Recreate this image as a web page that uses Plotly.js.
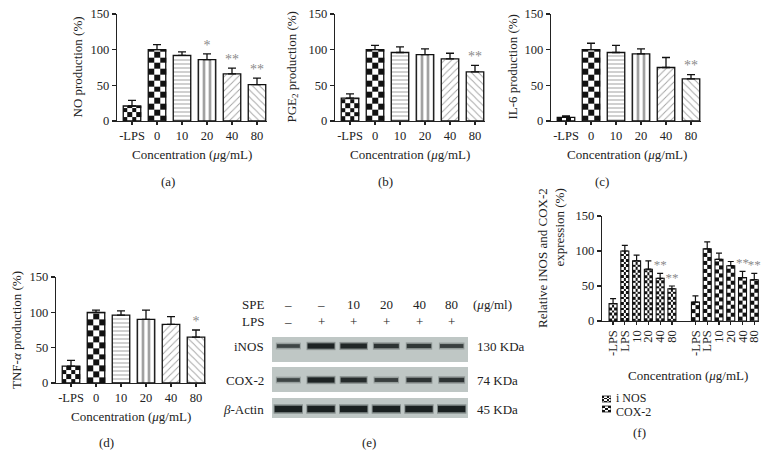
<!DOCTYPE html>
<html><head><meta charset="utf-8">
<script src="https://cdn.plot.ly/plotly-3.0.1.min.js"></script>
<style>html,body{margin:0;padding:0;background:#fff}</style>
</head><body><div id="chart" style="width:775px;height:469px"></div>
<script>
// ---------- data ----------
const groups = ['-LPS','0','10','20','40','80'];
const noVal = [21,100,92,86,66,51];
const noErr = [8,7,5,8,8,9];
const noStars = ['','','','*','**','**'];
const pgeVal = [32,100,96,93,87,69];
const pgeErr = [6,6,8,8,8,9];
const pgeStars = ['','','','','','**'];
const il6Val = [5,100,96,94,75,59];
const il6Err = [2,9,10,7,14,6];
const il6Stars = ['','','','','','**'];
const tnfVal = [24,100,96,90,83,65];
const tnfErr = [8,3,6,13,11,10];
const tnfStars = ['','','','','','*'];
const fGroups = ['-LPS','LPS','10','20','40','80'];
const fSeries = ['i NOS','COX-2'];
const inosVal = [25,100,86,74,61,46];
const inosErr = [7,8,8,12,7,4];
const inosStars = ['','','','','**','**'];
const coxVal = [27,103,88,79,62,59];
const coxErr = [9,10,9,6,9,9];
const coxStars = ['','','','','**','**'];
const blotLanes = [1,2,3,4,5,6];
const speRow = ['–','–','10','20','40','80'];
const lpsRow = ['–','+','+','+','+','+'];
const blotRows = ['iNOS','COX-2','<i>β</i>-Actin'];
const blotKDa = ['130 KDa','74 KDa','45 KDa'];
const inosBand = [0.55,0.95,0.9,0.75,0.7,0.6];
const coxBand = [0.55,0.95,0.85,0.6,0.75,0.75];
const actinBand = [1,1,1,1,1,1];

// ---------- helpers ----------
const W=775,H=469;
const F='"Liberation Serif","Times New Roman",serif';
const TXT='#222';
const px=x=>x/W, py=y=>1-y/H;
const dX=(l,r)=>[px(l),px(r)];
const dY=(t,b)=>[py(b),py(t)];
const TR='rgba(0,0,0,0)';

function checker(xa,ya,cx,w,val,ncols,sq,y0){
  const xe=[];for(let i=0;i<=ncols;i++)xe.push(cx-w/2+i*w/ncols);
  const base=(y0===undefined)?0:y0;
  const ye=[base];while(ye[ye.length-1]+sq<val-0.01)ye.push(ye[ye.length-1]+sq);ye.push(val);
  const z=[];for(let r=0;r<ye.length-1;r++){const row=[];for(let c=0;c<ncols;c++)row.push((r+c+1)%2);z.push(row);}
  return {type:'heatmap',x:xe,y:ye,z:z,xaxis:xa,yaxis:ya,colorscale:[[0,'#ffffff'],[1,'#111111']],zmin:0,zmax:1,showscale:false,hoverinfo:'skip',zsmooth:false};
}
function starTrace(xs,vals,errs,stars,xa,ya,size){
  const X=[],Y=[],T=[];
  stars.forEach((s,i)=>{if(s){X.push(xs[i]);Y.push(vals[i]+errs[i]+1);T.push(s);}});
  return {type:'scatter',mode:'text',x:X,y:Y,text:T,textposition:'top center',
    textfont:{family:F,size:size,color:'#8a8a8a'},xaxis:xa,yaxis:ya,hoverinfo:'skip',cliponaxis:false};
}

const traces=[];
const layout={width:W,height:H,margin:{l:0,r:0,t:0,b:0},paper_bgcolor:'#fff',plot_bgcolor:TR,showlegend:false,annotations:[],shapes:[]};

function yAxis(t,b,anchor){
  return {domain:dY(t,b),anchor:anchor,range:[0,150],tickvals:[0,50,100,150],ticks:'outside',ticklen:4,tickwidth:1.2,tickcolor:'#222',
    showline:true,linecolor:'#222',linewidth:1.2,showgrid:false,zeroline:false,tickfont:{family:F,size:12.5,color:TXT},automargin:false,fixedrange:true};
}
function xAxis(l,r,anchor,range,tv,tt,angle){
  return {domain:dX(l,r),anchor:anchor,range:range,tickvals:tv,ticktext:tt,tickangle:angle||0,ticks:'outside',ticklen:3,tickwidth:1.2,tickcolor:'#222',
    showline:true,linecolor:'#222',linewidth:1.2,showgrid:false,zeroline:false,tickfont:{family:F,size:12.5,color:TXT},automargin:false,fixedrange:true};
}
function ann(text,x,y,opt){
  layout.annotations.push(Object.assign({text:text,x:px(x),y:py(y),xref:'paper',yref:'paper',showarrow:false,font:{family:F,size:13,color:TXT},xanchor:'center',yanchor:'middle'},opt||{}));
}

// ---------- bar panels a-d ----------
const idx=groups.map((g,i)=>i);
const panels=[
  {n:'',val:noVal,err:noErr,stars:noStars,l:117,t:14,b:121,yt:'NO production (%)',ytx:77,xtx:192,xty:154,lab:'(a)',lx:168,ly:181},
  {n:'2',val:pgeVal,err:pgeErr,stars:pgeStars,l:335,t:14,b:121,yt:'PGE<sub>2</sub> production (%)',ytx:292,xtx:410,xty:154,lab:'(b)',lx:385,ly:181},
  {n:'3',val:il6Val,err:il6Err,stars:il6Stars,l:551,t:14,b:121,yt:'IL-6 production (%)',ytx:512,xtx:627,xty:154,lab:'(c)',lx:602,ly:181},
  {n:'4',val:tnfVal,err:tnfErr,stars:tnfStars,l:56,t:277,b:383,yt:'TNF-<i>α</i> production (%)',ytx:16,xtx:131,xty:416,lab:'(d)',lx:106,ly:442}
];
const BW=0.7;
panels.forEach(p=>{
  const xa='x'+p.n, ya='y'+p.n;
  const pxPerUnit=(p.b-p.t)/150;
  layout['xaxis'+p.n]=xAxis(p.l,p.l+150,ya,[-0.6,5.4],idx,groups);
  layout['yaxis'+p.n]=yAxis(p.t,p.b,xa);
  traces.push(checker(xa,ya,0,BW,p.val[0],4,4.4/pxPerUnit));
  traces.push(checker(xa,ya,1,BW,p.val[1],3,5.8/pxPerUnit));
  traces.push({type:'bar',x:idx,y:p.val,width:BW,xaxis:xa,yaxis:ya,hoverinfo:'skip',
    marker:{color:[TR,TR,'#fff','#fff','#fff','#fff'],line:{color:'#111',width:1.3},
      pattern:{shape:['','','-','|','/','\\'],size:[4,4,4,6,5,5],solidity:[0.2,0.2,0.25,0.45,0.18,0.18],fgcolor:'#222',fillmode:'overlay'}},
    error_y:{type:'data',symmetric:false,array:p.err,arrayminus:p.err.map(()=>0),width:4,thickness:1.3,color:'#111'}});
  traces.push(starTrace(idx,p.val,p.err,p.stars,xa,ya,14));
  ann(p.yt,p.ytx,(p.t+p.b)/2,{textangle:-90});
  ann('Concentration (<i>μ</i>g/mL)',p.xtx,p.xty);
  ann(p.lab,p.lx,p.ly);
});

// ---------- panel f ----------
const fSets=[{val:inosVal,err:inosErr,stars:inosStars,cols:3,sq:2.7},{val:coxVal,err:coxErr,stars:coxStars,cols:2,sq:4}];
const fPxPerUnit=(321-216)/150;
const fW=0.68;
const fTickV=[],fTickT=[];
fSets.forEach((s,g)=>{
  const xs=s.val.map((v,i)=>g*7+i);
  xs.forEach((x,i)=>{fTickV.push(x);fTickT.push(fGroups[i]);traces.push(checker('x5','y5',x,fW,s.val[i],s.cols,s.sq/fPxPerUnit));});
  traces.push({type:'bar',x:xs,y:s.val,width:fW,xaxis:'x5',yaxis:'y5',hoverinfo:'skip',name:fSeries[g],
    marker:{color:TR,line:{color:'#111',width:1.1}},
    error_y:{type:'data',symmetric:false,array:s.err,arrayminus:s.err.map(()=>0),width:3,thickness:1.2,color:'#111'}});
  traces.push(starTrace(xs,s.val,s.err,s.stars,'x5','y5',13));
});
layout.xaxis5=xAxis(602,759,'y5',[-0.94,12.4],fTickV,fTickT,-90);
layout.yaxis5=yAxis(216,321,'x5');
ann('Relative iNOS and COX-2<br>expression (%)',551,258,{textangle:-90,align:'right'});
ann('Concentration (<i>μ</i>g/mL)',688,375);
ann('(f)',639,432);

// legend swatches for f
layout.xaxis7={domain:dX(602,611),anchor:'y7',range:[0,1],visible:false,fixedrange:true};
layout.yaxis7={domain:dY(395,413),anchor:'x7',range:[413,395],visible:false,fixedrange:true};
traces.push(checker('x7','y7',0.5,1,402,4,1.5,396));
traces.push(checker('x7','y7',0.5,1,412,3,2,406));
layout.shapes.push({type:'rect',xref:'x7',yref:'y7',x0:0,x1:1,y0:396,y1:402,line:{color:'#111',width:0.8}});
layout.shapes.push({type:'rect',xref:'x7',yref:'y7',x0:0,x1:1,y0:406,y1:412,line:{color:'#111',width:0.8}});
ann(fSeries[0],614,397.5,{xanchor:'left',font:{family:F,size:12,color:TXT}});
ann(fSeries[1],614,411.5,{xanchor:'left',font:{family:F,size:12,color:TXT}});

// ---------- panel e : western blot ----------
layout.xaxis6={domain:dX(272,468),anchor:'y6',range:[0.5,6.5],visible:false,fixedrange:true};
layout.yaxis6={domain:dY(337,418),anchor:'x6',range:[418,337],visible:false,fixedrange:true};
const strips=[[337,362,346],[367,392,380],[398,418,409]];
const bands=[inosBand,coxBand,actinBand];
strips.forEach((s,r)=>{
  layout.shapes.push({type:'rect',xref:'x6',yref:'y6',x0:0.5,x1:6.5,y0:s[0],y1:s[1],fillcolor:'#bfc7c5',line:{width:0},layer:'below'});
  bands[r].forEach((b,i)=>{
    const lane=blotLanes[i];
    const hw=0.3+0.15*b;
    const t=(r===2)?6.5:(1.5+4*b);
    const a=0.35+0.6*b;
    traces.push({type:'scatter',mode:'lines',x:[lane-hw,lane+hw],y:[s[2],s[2]],xaxis:'x6',yaxis:'y6',hoverinfo:'skip',
      line:{color:'rgba(25,32,32,'+(a*0.35).toFixed(2)+')',width:t+3}});
    traces.push({type:'scatter',mode:'lines',x:[lane-hw+0.03,lane+hw-0.03],y:[s[2],s[2]],xaxis:'x6',yaxis:'y6',hoverinfo:'skip',
      line:{color:'rgba(20,26,26,'+a.toFixed(2)+')',width:t}});
  });
  ann(blotRows[r],266,s[2],{xanchor:'right'});
  ann(blotKDa[r],475,s[2],{xanchor:'left'});
});
ann('SPE',266,304,{xanchor:'right'});
ann('LPS',266,321,{xanchor:'right'});
blotLanes.forEach((lane,i)=>{
  layout.annotations.push({text:speRow[i],x:lane,xref:'x6',y:py(304),yref:'paper',showarrow:false,font:{family:F,size:13,color:TXT},xanchor:'center',yanchor:'middle'});
  layout.annotations.push({text:lpsRow[i],x:lane,xref:'x6',y:py(321),yref:'paper',showarrow:false,font:{family:F,size:13,color:TXT},xanchor:'center',yanchor:'middle'});
});
ann('(<i>μ</i>g/ml)',471,304,{xanchor:'left'});
ann('(e)',369,442);

Plotly.newPlot('chart',traces,layout,{staticPlot:true,displayModeBar:false});
</script></body></html>
